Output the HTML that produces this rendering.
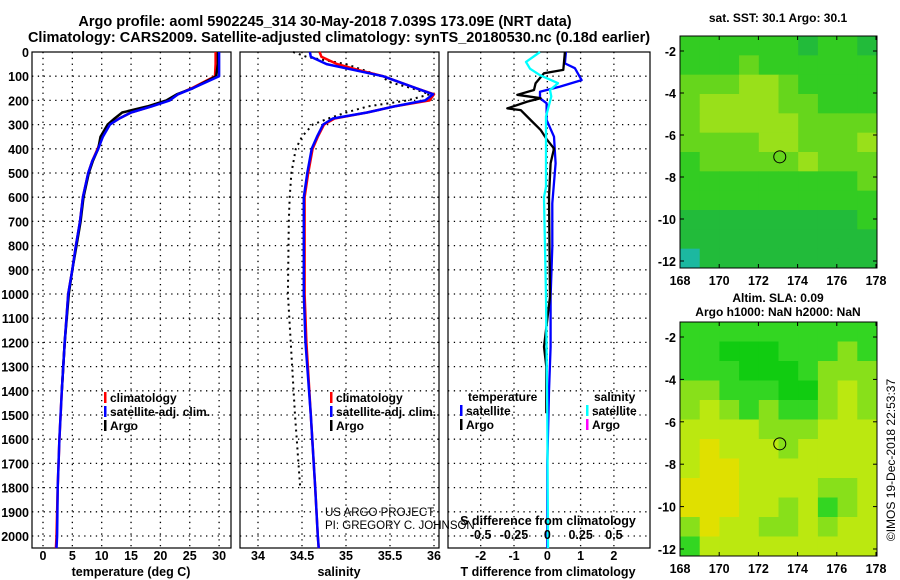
<!DOCTYPE html>
<html><head><meta charset="utf-8"><style>
html,body{margin:0;padding:0;background:#fff;}
svg{display:block;font-family:"Liberation Sans",Arial,sans-serif;font-weight:bold;}
</style></head><body>
<svg id="c" width="900" height="580" viewBox="0 0 900 580"></svg>
<script>
// ---- data ----
const tDepth=[0,50,100,150,175,200,225,250,275,300,350,400,450,500,600,700,800,900,1000,1200,1400,1600,1800,2000,2050];
const tClim=[29.4,29.4,29.3,25.3,23,21.4,18.4,15,13,11.3,10.1,9.3,8.4,7.7,6.8,6.3,5.6,5.0,4.3,3.7,3.2,2.8,2.5,2.3,2.2];
const tSat=[30,30,30,25.5,23,21.6,18.5,15,13,11.4,10.2,9.4,8.4,7.7,6.8,6.3,5.6,5.0,4.3,3.7,3.2,2.8,2.5,2.4,2.3];
const tArgo=[29.8,29.8,29.5,25.5,22.8,21,17.8,13.5,12.2,11,9.8,9.4,8.5,7.8,6.9,6.4,5.7,5.0,4.4,3.7,3.2];
const sDepth=[0,20,50,75,100,150,175,200,225,250,275,300,350,400,500,600,800,1000,1200,1500,1800,2000,2050];
const sClim=[34.7,34.72,34.9,35.15,35.42,35.8,36.0,35.95,35.55,35.24,34.87,34.75,34.68,34.62,34.57,34.53,34.53,34.53,34.55,34.6,34.65,34.68,34.69];
const sSat=[34.59,34.6,34.78,35.1,35.42,35.8,35.99,35.9,35.55,35.24,34.85,34.74,34.67,34.61,34.56,34.52,34.52,34.52,34.54,34.6,34.65,34.68,34.69];
const sArgoDepth=[0,20,50,100,125,150,175,200,225,250,275,300,350,400,500,600,700,1000,1500,1800];
const sArgo=[34.4,34.55,35.0,35.4,35.5,35.75,35.95,35.7,35.25,35.0,34.8,34.62,34.5,34.43,34.38,34.36,34.35,34.34,34.42,34.48];
const dTDepth=[0,47,67,116,143,164,191,212,281,350,460,625,805,1011,1218,1400,1700,1879,2050];
const dTSat=[0.56,0.53,0.83,1.03,0.38,-0.22,-0.22,-0.02,-0.02,0.2,0.25,0.15,0.15,0.1,0.1,0.05,0,0,0];
const dTArgoDepth=[0,74,88,129,157,177,191,205,233,240,281,322,364,399,460,598,1011,1218,1300,1493];
const dTArgo=[0.53,0.48,-0.1,-0.35,-0.4,-0.9,-0.2,-0.6,-1.2,-0.8,-0.5,-0.2,0,0.2,0.1,0.05,0.08,-0.1,-0.03,-0.03];
const dSDepth=[0,41,69,96,129,157,184,267,557,600,1011,1500,2050];
const dSSat=[-0.055,-0.16,-0.13,-0.055,0.08,0.02,0.03,-0.01,-0.01,-0.025,-0.01,0,0.005];
const depthTicks=[0,100,200,300,400,500,600,700,800,900,1000,1100,1200,1300,1400,1500,1600,1700,1800,1900,2000];
const tTicks=[0,5,10,15,20,25,30];
const sTicks=[34,34.5,35,35.5,36];
const dtTicks=[-2,-1,0,1,2];
const dsTicks=[-0.5,-0.25,0,0.25,0.5];
const lonTicks=[168,170,172,174,176,178];
const latTicks=[-2,-4,-6,-8,-10,-12];
const sstGrid=[
[2,2,2,2,2,2,1,2,2,1],[2,2,2,3,2,2,2,2,2,2],[3,3,3,4,4,3,2,2,2,2],[3,4,4,4,4,3,3,2,2,2],
[3,4,4,4,4,4,3,3,3,3],[3,3,3,3,4,4,3,3,3,4],[2,3,3,3,3,3,4,3,3,3],[2,2,2,2,2,2,2,2,2,3],
[2,2,2,2,2,2,2,2,2,2],[1,1,1,1,1,1,1,1,1,2],[1,1,1,1,1,1,1,1,1,1],[0,1,1,1,1,1,1,1,1,1]];
const slaGrid=[
[2,2,2,2,2,2,2,2,2,2],[2,2,1,1,1,2,2,2,3,2],[2,2,2,1,1,1,2,3,3,3],[3,3,2,2,2,1,1,3,4,3],
[3,4,3,2,3,2,2,3,4,3],[4,4,4,4,3,3,3,4,4,4],[4,5,4,4,4,3,4,4,4,4],[4,5,5,4,4,4,4,4,4,4],
[5,5,5,4,4,4,4,3,3,4],[5,5,5,4,4,3,4,2,3,4],[3,5,4,4,3,3,4,3,4,4],[2,4,4,4,4,4,4,4,4,4]];
const argoLon=173.09, argoLat=-7.039;

const NS='http://www.w3.org/2000/svg';
const svg=document.getElementById('c');
function mk(tag,attrs,parent){const e=document.createElementNS(NS,tag);for(const k in attrs)e.setAttribute(k,attrs[k]);(parent||svg).appendChild(e);return e;}
function txt(x,y,s,size,anchor,parent,name){const e=mk('text',{x:x,y:y,'font-size':size,'text-anchor':anchor||'middle'},parent);e.textContent=s;


return e;}
const Y=d=>52+d*0.242;
const TOP=52,BOT=548;
function panel(x0,x1,name){
  const g=mk('g',{});
  
  
  return g;
}
function grid(g,x0,x1,xs,fx){
  xs.forEach(v=>{const x=fx(v);if(x>x0+1&&x<x1-1)mk('line',{x1:x,x2:x,y1:TOP,y2:BOT,stroke:'#000','stroke-width':1.3,'stroke-dasharray':'1.3 4.5'},g);});
  depthTicks.forEach(d=>{const y=Y(d);if(y>TOP+1)mk('line',{x1:x0,x2:x1,y1:y,y2:y,stroke:'#000','stroke-width':1.3,'stroke-dasharray':'1.3 4.5'},g);});
  mk('rect',{x:x0,y:TOP,width:x1-x0,height:BOT-TOP,fill:'none',stroke:'#000','stroke-width':1.2},g);
}
function line(g,ds,vs,fx,color,w,dash,name){
  const p=ds.slice(0,vs.length).map((d,i)=>fx(vs[i]).toFixed(1)+','+Y(d).toFixed(1)).join(' ');
  const e=mk('polyline',{points:p,fill:'none',stroke:color,'stroke-width':w,'stroke-linejoin':'round'},g);
  if(dash)e.setAttribute('stroke-dasharray',dash);
  
  
}
// titles
txt(325,26,'Argo profile: aoml 5902245_314 30-May-2018 7.039S 173.09E (NRT data)',14.5,'middle',null,'title-line-1');
txt(339,42,'Climatology: CARS2009. Satellite-adjusted climatology: synTS_20180530.nc (0.18d earlier)',14.5,'middle',null,'title-line-2');

// panel 1
const fT=v=>43+v*5.87;
const p1=panel(32,231,'temperature-panel');
grid(p1,32,231,tTicks,fT);
line(p1,tDepth,tClim,fT,'#f00',2.5,null,'temp-climatology-line');
line(p1,tDepth,tArgo,fT,'#000',2.5,null,'temp-argo-line');
line(p1,tDepth,tSat,fT,'#00f',2.5,null,'temp-satellite-line');
depthTicks.forEach(d=>txt(29,Y(d)+5,String(d),12.5,'end',null,'depth-tick'));
tTicks.forEach(v=>txt(fT(v),560,String(v),12.5,'middle',null,'temp-tick'));
txt(131,576,'temperature (deg C)',12.5,'middle',null,'temp-axis-title');
function legend(x,y,items,name){
  items.forEach((it,i)=>{
    const yy=y+i*14;
    if(it[1])mk('rect',{x:x,y:yy-10,width:2.5,height:11,fill:it[1]});
    txt(x+6,yy,it[0],12,'start',null,name);
  });
}
legend(104,402,[['climatology','#f00'],['satellite-adj. clim.','#00f'],['Argo','#000']],'temp-legend-entry');

// panel 2
const fS=v=>258+(v-34)*88;
const p2=panel(240,439,'salinity-panel');
grid(p2,240,439,sTicks,fS);
line(p2,sArgoDepth,sArgo,fS,'#000',2,'2 4','sal-argo-line');
line(p2,sDepth,sClim,fS,'#f00',2.5,null,'sal-climatology-line');
line(p2,sDepth,sSat,fS,'#00f',2.5,null,'sal-satellite-line');
sTicks.forEach(v=>txt(fS(v),560,String(v),12.5,'middle',null,'sal-tick'));
txt(339,576,'salinity',12.5,'middle',null,'sal-axis-title');
legend(330,402,[['climatology','#f00'],['satellite-adj. clim.','#00f'],['Argo','#000']],'sal-legend-entry');

// panel 3
const fD=v=>547.3+v*33.3;
const fDS=v=>547.3+v*133.3;
const p3=panel(448,650,'difference-panel');
grid(p3,448,650,dtTicks,fD);
line(p3,dTDepth,dTSat,fD,'#00f',2.3,null,'tdiff-satellite-line');
line(p3,dTArgoDepth,dTArgo,fD,'#000',2.3,null,'tdiff-argo-line');
line(p3,dSDepth,dSSat,fDS,'#0ff',2.3,null,'sdiff-satellite-line');
dtTicks.forEach(v=>txt(fD(v),560,String(v),12.5,'middle',null,'tdiff-tick'));
txt(548,576,'T difference from climatology',12.5,'middle',null,'tdiff-axis-title');
txt(548,525,'S difference from climatology',12.5,'middle',null,'sdiff-axis-title');
dsTicks.forEach(v=>txt(fDS(v),539,String(v),12.5,'middle',null,'sdiff-tick'));
txt(468,401,'temperature',12,'start',null,'tdiff-legend-title');
legend(460,415,[['satellite','#00f'],['Argo','#000']],'tdiff-legend-entry');
txt(594,401,'salinity',12,'start',null,'sdiff-legend-title');
legend(586,415,[['satellite','#0ff'],['Argo','#f0f']],'sdiff-legend-entry');

const pi1=txt(325,516,'US ARGO PROJECT',11.5,'start',null,'credit-project');pi1.setAttribute('font-weight','normal');
const pi2=txt(325,529,'PI: GREGORY C. JOHNSON',11.5,'start',null,'credit-pi');pi2.setAttribute('font-weight','normal');

// maps
function map(x0,y0,x1,y1,gridv,pal,name){
  const g=mk('g',{});
  
  
  const lonX=v=>680+(v-168)*19.6;
  const latY=v=>y0+15+(-2-v)*((y1-y0-22)/10);
  const rows=gridv.length,cols=gridv[0].length;
  const cw=(x1-x0)/cols,ch=(y1-y0)/rows;
  gridv.forEach((r,i)=>r.forEach((v,j)=>{
    const c=mk('rect',{x:x0+j*cw,y:y0+i*ch,width:cw+0.5,height:ch+0.5,fill:pal[v]},g);
    
    
  }));
  mk('rect',{x:x0,y:y0,width:x1-x0,height:y1-y0,fill:'none',stroke:'#000','stroke-width':1},g);
  const ci=mk('circle',{cx:lonX(argoLon),cy:latY(argoLat),r:6,fill:'none',stroke:'#000','stroke-width':1},g);
  
  
  lonTicks.forEach(v=>{const x=lonX(v);mk('line',{x1:x,x2:x,y1:y1,y2:y1-4,stroke:'#000'},g);mk('line',{x1:x,x2:x,y1:y0,y2:y0+4,stroke:'#000'},g);txt(x,y1+17,String(v),12.5,'middle',g,'lon-tick');});
  latTicks.forEach(v=>{const y=latY(v);mk('line',{x1:x0,x2:x0+4,y1:y,y2:y,stroke:'#000'},g);mk('line',{x1:x1,x2:x1-4,y1:y,y2:y,stroke:'#000'},g);txt(x0-4,y+5,String(v),12.5,'end',g,'lat-tick');});
}
map(680,36,877,268,sstGrid,['#1cb8a0','#22bb3a','#33cc22','#66d61c','#99e01a','#dde000'],'sst-map');
map(680,322,877,556,slaGrid,['#11cc11','#11cc11','#33d622','#88e01a','#bbe810','#e0e000'],'sla-map');
txt(778,22,'sat. SST: 30.1 Argo: 30.1',12,'middle',null,'sst-map-title');
txt(778,302,'Altim. SLA: 0.09',12,'middle',null,'sla-map-title');
txt(778,316,'Argo h1000: NaN h2000: NaN',12,'middle',null,'sla-map-subtitle');
const v=txt(0,0,'©IMOS 19-Dec-2018 22:53:37',12,'middle',null,'timestamp');
v.setAttribute('font-weight','normal');
v.setAttribute('transform','translate(895,460) rotate(-90)');
</script>
</body></html>
